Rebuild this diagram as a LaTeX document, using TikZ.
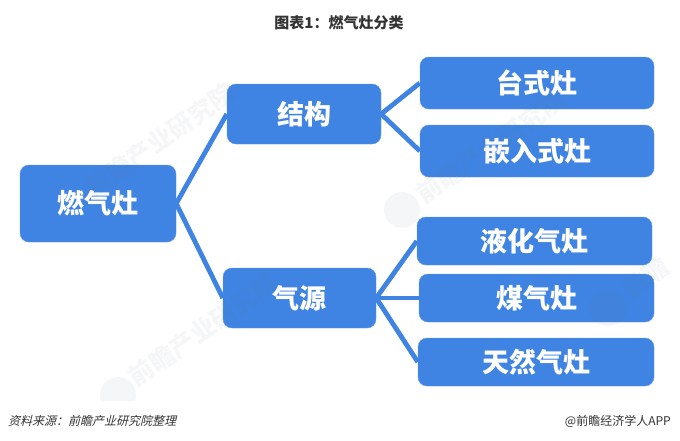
\documentclass[tikz,border=0pt]{standalone}
\usepackage{fontspec}
\setmainfont{Noto Sans CJK SC}
\newfontfamily\slantfont[FakeSlant=0.25]{Noto Sans CJK SC}
\usetikzlibrary{shadows}
\definecolor{boxblue}{HTML}{3F84E2}
\definecolor{boxedge}{HTML}{5C97E8}
\definecolor{markgray}{HTML}{5A6A8C}
\tikzstyle{category}=[draw=boxedge, fill=boxblue, rounded corners=9pt, text=white, font=\fontsize{27}{27}\selectfont\bfseries, inner sep=0pt]
\tikzstyle{branch}=[draw=boxblue, line width=4.8pt, drop shadow={shadow xshift=1pt, shadow yshift=-1pt, opacity=0.25, fill=black}]
\tikzstyle{watermark}=[text=markgray, text opacity=0.06, font=\fontsize{25}{25}\selectfont\bfseries, rotate=35]
\tikzstyle{marklogo}=[fill=markgray, fill opacity=0.06]

\begin{document}
\begin{tikzpicture}[x=1pt, y=-1pt]
      \useasboundingbox (0, 0) rectangle (680, 440);
      \node[category, minimum width=156pt, minimum height=77pt] (stove) at (98, 203.5) {燃气灶};
      \node[category, minimum width=154pt, minimum height=60pt] (structure) at (304, 114) {结构};
      \node[category, minimum width=153pt, minimum height=60pt] (source) at (299.5, 298) {气源};
      \node[category, minimum width=234pt, minimum height=52pt] (tabletop) at (537, 83) {台式灶};
      \node[category, minimum width=234pt, minimum height=52pt] (builtin) at (537, 151) {嵌入式灶};
      \node[category, minimum width=235pt, minimum height=48pt] (liquefied) at (534.5, 241) {液化气灶};
      \node[category, minimum width=235pt, minimum height=48pt] (coal) at (536.5, 298) {煤气灶};
      \node[category, minimum width=236pt, minimum height=48pt] (natural) at (536, 362) {天然气灶};
      \draw[branch] (stove.east) to (structure.west);
      \draw[branch] (stove.east) to (source.west);
      \draw[branch] (structure.east) to (tabletop.west);
      \draw[branch] (structure.east) to (builtin.west);
      \draw[branch] (source.east) to (liquefied.west);
      \draw[branch] (source.east) to (coal.west);
      \draw[branch] (source.east) to (natural.west);
      % faint marks over the boxes
      \node[watermark] (mark1) at (160, 140) {前瞻产业研究院};
      \node[watermark] (mark2) at (491, 147) {前瞻产业研究院};
      \node[watermark] (mark3) at (203, 330) {前瞻产业研究院};
      \node[watermark] (mark4) at (645, 278) {前瞻};
      \begin{scope}
        \clip (0, 0) rectangle (680, 400);
        \fill[marklogo] (402, 210) circle (18);
        \fill[marklogo] (118, 395) circle (18);
        \fill[marklogo] (608, 308) circle (18);
      \end{scope}
      \node[text=black!80, font=\fontsize{15}{15}\selectfont\bfseries] (title) at (339, 23) {图表1：燃气灶分类};
      \node[anchor=west, inner sep=0pt, text=black!80, font=\fontsize{12}{12}\selectfont\slantfont] (credit) at (8, 421) {资料来源：前瞻产业研究院整理};
      \node[anchor=east, inner sep=0pt, text=black!80, font=\fontsize{12}{12}\selectfont] (app) at (671, 421) {@前瞻经济学人APP};
    \end{tikzpicture}
\end{document}
